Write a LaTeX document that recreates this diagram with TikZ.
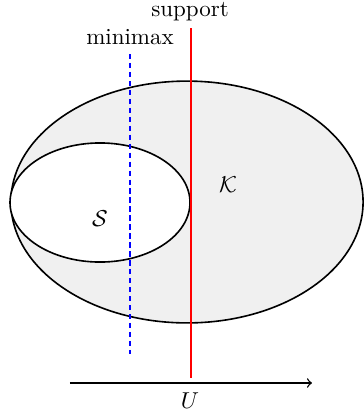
\documentclass[tikz,border=0pt]{standalone}
\usetikzlibrary{arrows}
\begin{document}
\begin{tikzpicture}[x=0.435pt,y=-0.435pt,
  setline/.style={line width=0.7pt,black},
  supportline/.style={red,line width=0.7pt},
  minimaxline/.style={blue,line width=0.7pt,dash pattern=on 2.3pt off 1.6pt},
  lbl/.style={inner sep=0pt,font=\normalsize}]
\useasboundingbox (0,0) rectangle (364,417);
\fill[black!6] (187,202) ellipse [x radius=76.6pt, y radius=52.6pt];
\draw[setline] (187,202) ellipse [x radius=76.6pt, y radius=52.6pt];
\fill[white] (100,202.5) ellipse [x radius=39.15pt, y radius=25.9pt];
\draw[setline] (100,202.5) ellipse [x radius=39.15pt, y radius=25.9pt];
\coordinate (mt) at (130,54);
\coordinate (mb) at (130,354);
\draw[minimaxline] (mt) -- (mb);
\coordinate (st) at (191,28);
\coordinate (sb) at (191,378);
\draw[supportline] (st) -- (sb);
\coordinate (ua) at (70,383);
\coordinate (ub) at (312,383);
\draw[->,line width=0.6pt] (ua) -- (ub);
\node[lbl] (U) at (190,401) {$U$};
\node[lbl,anchor=base] (sup) at (190,16) {support};
\node[lbl] (mm) at (130,37) {minimax};
\node[lbl] (K) at (228,185) {$\mathcal{K}$};
\node[lbl] (S) at (100,219) {$\mathcal{S}$};
\end{tikzpicture}
\end{document}
